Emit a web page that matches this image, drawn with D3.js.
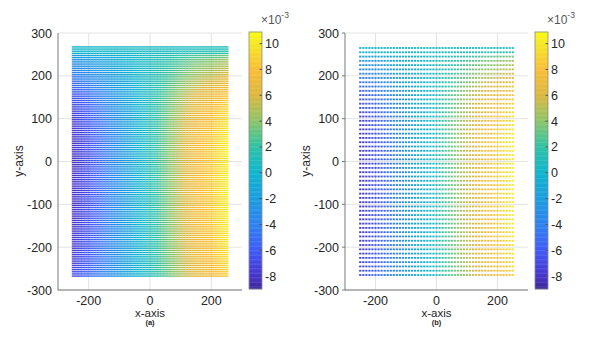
<!DOCTYPE html>
<html>
<head>
<meta charset="utf-8">
<script src="https://cdn.jsdelivr.net/npm/d3@7"></script>
<style>
  body { margin: 0; background: #fff; }
  text { font-family: "Liberation Sans", Arial, sans-serif; fill: #262626; }
</style>
</head>
<body>
<div id="chart"></div>
<script>
// column positions and a typical row's value along x (x1e-3)
var colX = [-250,-240,-230,-220,-210,-200,-190,-180,-170,-160,-150,-140,-130,-120,-110,-100,-90,-80,-70,-60,-50,-40,-30,-20,-10,
            0,10,20,30,40,50,60,70,80,90,100,110,120,130,140,150,160,170,180,190,200,210,220,230,240,250];
var colValue = [-8.0,-7.8,-7.5,-7.2,-6.9,-6.6,-6.2,-5.9,-5.5,-5.2,-4.8,-4.4,-4.0,-3.6,-3.2,-2.8,-2.4,-2.0,-1.6,-1.2,-0.8,-0.4,0.0,0.4,0.8,
                1.2,1.6,2.0,2.5,2.9,3.3,3.8,4.2,4.6,5.1,5.5,5.9,6.3,6.7,7.1,7.4,7.7,8.0,8.3,8.5,8.7,9.0,9.3,9.6,9.9,10.3];
// row positions and how strongly each row follows the x profile
var rowY = [265,255,245,235,225,215,205,195,185,175,165,155,145,135,125,115,105,95,85,75,65,55,45,35,25,15,5,
            -5,-15,-25,-35,-45,-55,-65,-75,-85,-95,-105,-115,-125,-135,-145,-155,-165,-175,-185,-195,-205,-215,-225,-235,-245,-255,-265];
var rowScale = [0.05,0.1,0.3,0.4,0.45,0.5,0.55,0.6,0.65,0.7,0.75,0.8,0.82,0.85,0.88,0.9,0.92,0.94,0.95,0.96,0.97,0.98,1.0,0.98,1.0,1.0,0.98,
                1.0,1.0,0.98,1.0,1.0,0.98,1.0,1.0,0.98,1.0,1.0,0.98,1.0,0.98,0.97,0.98,0.96,0.96,0.95,0.95,0.94,0.93,0.92,0.9,0.88,0.86,0.84];
var topLevel = 0.6;
var axisTicks = [-300,-200,-100,0,100,200,300];
var xTicks = [-200,0,200];
var cbTicks = [-8,-6,-4,-2,0,2,4,6,8,10];
var cbRange = [-9.0,10.9];

var W = 613, H = 341;
var svg = d3.select("#chart").append("svg").attr("width", W).attr("height", H);

var color = d3.scaleLinear()
    .domain([-9,-8,-6,-4,-2,0,2,4,6,8,10,10.9])
    .range(["#3b2796","#4834cc","#405af7","#2e82f0","#1c9ddf","#0fb5cf","#2ec3a6","#8cc56a","#dcb83f","#f9be38","#f5e826","#f9fb0e"])
    .clamp(true);

var cells = [];
rowY.forEach(function (y, j) {
    colX.forEach(function (x, i) {
        cells.push({x: x, y: y, v: topLevel + rowScale[j] * (colValue[i] - topLevel)});
    });
});

function panel(left, right, label, kind, cbX) {
    var x = d3.scaleLinear().domain([-300, 300]).range([left, right]);
    var y = d3.scaleLinear().domain([-300, 300]).range([290, 33]);
    var g = svg.append("g");

    // grid
    g.selectAll(".gx").data(xTicks).enter().append("line")
        .attr("x1", d => x(d)).attr("x2", d => x(d)).attr("y1", 33).attr("y2", 290)
        .attr("stroke", "#e3e3e3").attr("stroke-width", 1);
    g.selectAll(".gy").data(axisTicks).enter().append("line")
        .attr("x1", left).attr("x2", right).attr("y1", d => y(d)).attr("y2", d => y(d))
        .attr("stroke", "#e3e3e3").attr("stroke-width", 1);

    var dx = Math.abs(x(10) - x(0));
    if (kind == "lines") {
        var segs = [];
        cells.forEach(function (c) {
            segs.push({x: c.x, y: c.y + 2.5, v: c.v});
            segs.push({x: c.x, y: c.y - 2.5, v: c.v});
        });
        g.selectAll(".seg").data(segs).enter().append("rect")
            .attr("x", d => x(d.x) - dx / 2)
            .attr("y", d => y(d.y) - 0.7)
            .attr("width", dx + 0.3)
            .attr("height", 1.4)
            .attr("fill", d => color(d.v));
    } else {
        g.selectAll(".dot").data(cells).enter().append("rect")
            .attr("x", d => x(d.x) - 1.1)
            .attr("y", d => y(d.y) - 0.9)
            .attr("width", 2.2)
            .attr("height", 1.8)
            .attr("fill", d => color(d.v));
    }

    // axes lines
    g.append("line").attr("x1", left).attr("x2", left).attr("y1", 33).attr("y2", 290)
        .attr("stroke", "#7a7a7a").attr("stroke-width", 1);
    g.append("line").attr("x1", left).attr("x2", right).attr("y1", 290).attr("y2", 290)
        .attr("stroke", "#7a7a7a").attr("stroke-width", 1);
    if (kind == "dots") {
        g.selectAll(".ty").data(axisTicks).enter().append("line")
            .attr("x1", left - 3).attr("x2", left).attr("y1", d => y(d)).attr("y2", d => y(d))
            .attr("stroke", "#7a7a7a");
    }

    g.selectAll(".yl").data(axisTicks).enter().append("text")
        .attr("x", left - 6).attr("y", d => y(d) + 4.5)
        .attr("text-anchor", "end").attr("font-size", 12.5)
        .text(d => d);
    g.selectAll(".xl").data(xTicks).enter().append("text")
        .attr("x", d => x(d)).attr("y", 305)
        .attr("text-anchor", "middle").attr("font-size", 12.5)
        .text(d => d);
    g.append("text").attr("x", x(0)).attr("y", 316.5)
        .attr("text-anchor", "middle").attr("font-size", 11.5).text("x-axis");
    g.append("text").attr("x", x(0)).attr("y", 325)
        .attr("text-anchor", "middle").attr("font-size", 7.5).attr("font-weight", "bold").text(label);
    g.append("text")
        .attr("transform", "translate(" + (left - 35) + ",161) rotate(-90)")
        .attr("text-anchor", "middle").attr("font-size", 12).text("y-axis");

    // colorbar
    var cy = d3.scaleLinear().domain(cbRange).range([289, 32]);
    var steps = d3.range(0, 200).map(i => cbRange[0] + (cbRange[1] - cbRange[0]) * i / 200);
    var hStep = 257 / 200;
    g.selectAll(".cb").data(steps).enter().append("rect")
        .attr("x", cbX).attr("width", 13)
        .attr("y", d => cy(d) - hStep - 0.2).attr("height", hStep + 0.4)
        .attr("fill", d => color(d + (cbRange[1] - cbRange[0]) / 400));
    g.append("rect").attr("x", cbX).attr("y", 32).attr("width", 13).attr("height", 257)
        .attr("fill", "none").attr("stroke", "#8a8a8a").attr("stroke-width", 0.8);
    g.selectAll(".cbt").data(cbTicks).enter().append("line")
        .attr("x1", cbX + 10.5).attr("x2", cbX + 13).attr("y1", d => cy(d)).attr("y2", d => cy(d))
        .attr("stroke", "#555");
    g.selectAll(".cbl").data(cbTicks).enter().append("text")
        .attr("x", cbX + 16).attr("y", d => cy(d) + 4.5)
        .attr("font-size", 12.5).text(d => d);
    var ex = g.append("text").attr("x", cbX + 12).attr("y", 24).attr("font-size", 12).style("fill", "#555");
    ex.append("tspan").text("\u00d710");
    ex.append("tspan").attr("dy", -6).attr("font-size", 8.5).text("-3");
}

panel(58, 242, "(a)", "lines", 249);
panel(345, 528, "(b)", "dots", 535);
</script>
</body>
</html>
